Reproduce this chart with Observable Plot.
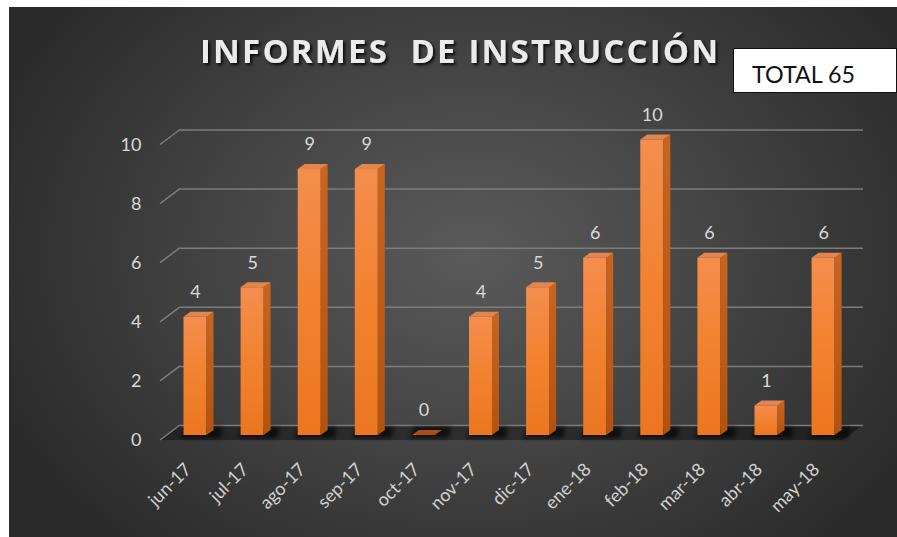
<!DOCTYPE html>
<html>
<head>
<meta charset="utf-8">
<script src="https://cdn.jsdelivr.net/npm/d3@7"></script>
<script src="https://cdn.jsdelivr.net/npm/@observablehq/plot@0.6"></script>
<style>
html, body { margin: 0; padding: 0; background: #ffffff; }
#wrap { position: relative; width: 897px; height: 537px; overflow: hidden; }
#bg { position: absolute; left: 9px; top: 7px; width: 888px; height: 530px;
  background: radial-gradient(ellipse 520px 400px at 462px 245px, #5a5a5a 0%, #484848 40%, #2a2a2a 100%); }
#chart { position: absolute; left: 0; top: 0; }
</style>
</head>
<body>
<div id="wrap"><div id="bg"></div><div id="chart"></div></div>
<script>
// ---- data ----
const months = ["jun-17", "jul-17", "ago-17", "sep-17", "oct-17", "nov-17", "dic-17", "ene-18", "feb-18", "mar-18", "abr-18", "may-18"];
const values = [4, 5, 9, 9, 0, 4, 5, 6, 10, 6, 1, 6];
const yTicks = [0, 2, 4, 6, 8, 10];
const titleText = "INFORMES  DE INSTRUCCIÓN";
const totalText = "TOTAL 65";

const data = months.map((m, i) => ({month: m, value: values[i]}));

// 3D geometry (pixels)
const DX = 7, DY = 5;          // bar depth
const BACK_DY = -10;           // back wall offset from bar front plane
const FRONT_DY = 5;            // floor front edge offset from bar front plane
const WALL_DX = 20;            // horizontal depth of left wall / floor

function defsMark() {
  const defs = d3.create("svg:defs");
  defs.html(`
    <linearGradient id="frontGrad" x1="0" y1="0" x2="0" y2="1">
      <stop offset="0" stop-color="#f48d4e"/>
      <stop offset="0.5" stop-color="#f2822f"/>
      <stop offset="1" stop-color="#ec7620"/>
    </linearGradient>
    <linearGradient id="sideGrad" x1="0" y1="0" x2="0" y2="1">
      <stop offset="0" stop-color="#c8651f"/>
      <stop offset="1" stop-color="#b3520f"/>
    </linearGradient>
    <filter id="blur2" x="-50%" y="-50%" width="200%" height="200%">
      <feGaussianBlur stdDeviation="2"/>
    </filter>
    <filter id="titleShadow" x="-10%" y="-30%" width="120%" height="160%">
      <feDropShadow dx="2" dy="2" stdDeviation="1.6" flood-color="#000" flood-opacity="0.85"/>
    </filter>`);
  return defs.node();
}

function floorMark(index, scales, values, dims) {
  const y = scales.y;
  const y0 = y(0);
  const xl = dims.marginLeft, xr = dims.width - dims.marginRight;
  const g = d3.create("svg:g");
  g.append("path")
    .attr("d", `M${xl - WALL_DX},${y0 + FRONT_DY}L${xr - WALL_DX},${y0 + FRONT_DY}L${xr},${y0 + BACK_DY}L${xl},${y0 + BACK_DY}Z`)
    .attr("fill", "#000").attr("fill-opacity", 0.35);
  return g.node();
}

function wallDiagonals(index, scales, values, dims) {
  const y = scales.y;
  const xl = dims.marginLeft;
  const g = d3.create("svg:g").attr("stroke", "#7c7c7c").attr("stroke-width", 1.5).attr("fill", "none");
  for (const t of yTicks) {
    g.append("line")
      .attr("x1", xl - WALL_DX).attr("y1", y(t) + FRONT_DY)
      .attr("x2", xl).attr("y2", y(t) + BACK_DY);
  }
  return g.node();
}

function shadows(index, scales) {
  const x = scales.x, y = scales.y;
  const bw = x.bandwidth();
  const yb = y(0);
  const g = d3.create("svg:g").attr("fill", "#000").attr("fill-opacity", 0.65).attr("filter", "url(#blur2)");
  for (const d of data) {
    const x0 = x(d.month), x1 = x0 + bw;
    g.append("path")
      .attr("d", `M${x0 - 3},${yb + 3}L${x1 + DX + 7},${yb + 3}L${x1 + DX + 9},${yb - DY - 3}L${x0 + 2},${yb - DY - 3}Z`);
  }
  return g.node();
}

function faces(index, scales) {
  const x = scales.x, y = scales.y;
  const bw = x.bandwidth();
  const yb = y(0);
  const g = d3.create("svg:g");
  for (const d of data) {
    const x0 = x(d.month), x1 = x0 + bw, yt = y(d.value);
    if (d.value > 0) {
      g.append("path")
        .attr("d", `M${x1},${yt}L${x1 + DX},${yt - DY}L${x1 + DX},${yb - DY}L${x1},${yb}Z`)
        .attr("fill", "url(#sideGrad)");
    }
    g.append("path")
      .attr("d", `M${x0},${yt}L${x0 + DX},${yt - DY}L${x1 + DX},${yt - DY}L${x1},${yt}Z`)
      .attr("fill", d.value > 0 ? "#e5844c" : "#a94f17");
  }
  return g.node();
}

function chrome() {
  const g = d3.create("svg:g").attr("text-anchor", "start");
  g.append("text")
    .attr("x", 200).attr("y", 63)
    .attr("text-anchor", "start")
    .attr("textLength", 518).attr("lengthAdjust", "spacing")
    .attr("font-family", "'Open Sans', sans-serif")
    .attr("font-weight", 700).attr("font-size", 33)
    .attr("fill", "#ebebeb")
    .attr("filter", "url(#titleShadow)")
    .style("white-space", "pre")
    .text(titleText);
  g.append("rect")
    .attr("x", 733.5).attr("y", 48.5).attr("width", 163).attr("height", 44)
    .attr("fill", "#ffffff").attr("stroke", "#111").attr("stroke-width", 1);
  g.append("text")
    .attr("x", 752).attr("y", 83)
    .attr("text-anchor", "start")
    .attr("textLength", 103).attr("lengthAdjust", "spacingAndGlyphs")
    .attr("font-family", "Lato, sans-serif").attr("font-size", 24)
    .attr("fill", "#111")
    .text(totalText);
  return g.node();
}

const step = 57.1, bandW = 23;
const x0 = 183.5;
const plot = Plot.plot({
  width: 897,
  height: 537,
  marginLeft: 180,
  marginRight: 34,
  marginTop: 120,
  marginBottom: 60,
  style: {background: "transparent", fontFamily: "Lato, sans-serif", overflow: "visible"},
  x: {
    type: "band", domain: months,
    range: [x0, x0 + step * (months.length - (1 - bandW / step))],
    paddingInner: 1 - bandW / step, paddingOuter: 0, align: 0, round: false,
    axis: null
  },
  y: {domain: [0, 10], range: [435, 139.5], axis: null},
  marks: [
    defsMark,
    floorMark,
    Plot.ruleY(yTicks, {y: d => d, dy: BACK_DY, stroke: "#7c7c7c", strokeWidth: 1.5}),
    wallDiagonals,
    shadows,
    Plot.barY(data, {x: "month", y: "value", fill: "url(#frontGrad)"}),
    faces,
    Plot.text(data, {x: "month", y: "value", text: d => String(d.value), dy: -25, fill: "#d9d9d9", fontSize: 18}),
    Plot.text(yTicks, {y: d => d, text: d => String(d), frameAnchor: "left", dx: -39, dy: FRONT_DY, textAnchor: "end", fill: "#d9d9d9", fontSize: 18}),
    Plot.text(months, {x: d => d, y: () => 0, text: d => d, dx: -3, dy: 35, rotate: -45, textAnchor: "end", lineAnchor: "bottom", fill: "#d2d2d2", fontSize: 18}),
    chrome
  ]
});
document.getElementById("chart").appendChild(plot);
</script>
</body>
</html>
